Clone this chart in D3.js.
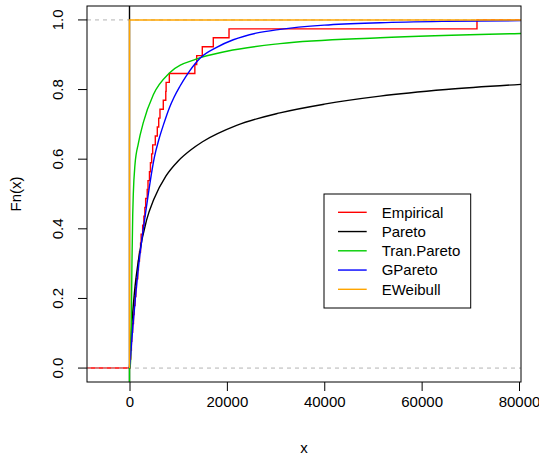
<!DOCTYPE html>
<html>
<head>
<meta charset="utf-8">
<script src="https://cdn.jsdelivr.net/npm/d3@7"></script>
<style>
  html, body { margin: 0; padding: 0; background: #fff; }
  svg text { font-family: "Liberation Sans", Arial, Helvetica, sans-serif; }
</style>
</head>
<body>
<svg id="chart" width="539" height="460"></svg>
<script>
'use strict';

// sorted claim sizes behind the empirical cdf (39 obs.)
var empiricalX = [
  120, 260, 390, 470, 640, 820, 950, 1130, 1300, 1420,
  1690, 1830, 2050, 2270, 2390, 2700, 2950, 3150, 3320, 3640,
  3800, 4100, 4300, 4550, 4760, 5300, 5710, 6000, 6260, 6940,
  7450, 7520, 8180, 13420, 13800, 14950, 17210, 20440, 71370
];

// fitted cdfs as [x, F(x)]
var paretoPts = [
  [0, 0], [200, 0.06], [500, 0.13], [1000, 0.215], [2000, 0.325],
  [3500, 0.425], [5000, 0.485], [7500, 0.552], [10000, 0.595],
  [12630, 0.627], [15000, 0.65], [22000, 0.697], [30900, 0.733],
  [40000, 0.758], [51450, 0.781], [65000, 0.80], [80410, 0.815]
];
var tranParetoPts = [
  [0, 0], [120, 0.004], [250, 0.03], [380, 0.14], [500, 0.30],
  [660, 0.44], [780, 0.50], [1130, 0.585], [1810, 0.645], [2830, 0.705],
  [4890, 0.785], [8320, 0.849], [13800, 0.888], [20000, 0.91],
  [30900, 0.932], [51450, 0.949], [80410, 0.961]
];
var gParetoPts = [
  [0, 0], [300, 0.05], [700, 0.12], [1200, 0.20], [2000, 0.31],
  [2830, 0.40], [3500, 0.465], [4300, 0.54], [5100, 0.605], [6000, 0.655],
  [7000, 0.70], [8200, 0.748], [9150, 0.778], [10300, 0.808],
  [11600, 0.838], [14480, 0.89], [18000, 0.922], [21320, 0.943],
  [26000, 0.962], [30900, 0.973], [40000, 0.985], [51450, 0.992],
  [65000, 0.996], [80410, 0.998]
];
var eWeibullPts = [[0, 0], [0, 1], [80410, 1]];

var xTicks = [0, 20000, 40000, 60000, 80000];
var yTicks = [0, 0.2, 0.4, 0.6, 0.8, 1.0];
var yTickLabels = ['0.0', '0.2', '0.4', '0.6', '0.8', '1.0'];

var legendLabels = ['Empirical', 'Pareto', 'Tran.Pareto', 'GPareto', 'EWeibull'];

var colors = {
  empirical: '#ff0000',
  pareto: '#000000',
  tranPareto: '#00cd00',
  gPareto: '#0000ff',
  eWeibull: '#ffa500',
  refLine: '#b3b3b3'
};
var legendColors = [colors.empirical, colors.pareto, colors.tranPareto,
  colors.gPareto, colors.eWeibull];

var box = { left: 87, right: 521, top: 6, bottom: 382 };
var lineWidth = 1.4;

var svg = d3.select('#chart');

var x = d3.scaleLinear().domain([-8730, 80410]).range([box.left, box.right]);
var y = d3.scaleLinear().domain([-0.04, 1.04]).range([box.bottom, box.top]);

svg.append('defs').append('clipPath').attr('id', 'plotClip')
  .append('rect')
  .attr('x', box.left).attr('y', box.top)
  .attr('width', box.right - box.left)
  .attr('height', box.bottom - box.top);

var plot = svg.append('g').attr('clip-path', 'url(#plotClip)');

/**
 * Draws one polyline through [x, F] pairs.
 */
function drawLine(points, color, curve) {
  var line = d3.line()
    .x(function(d) { return x(d[0]); })
    .y(function(d) { return y(d[1]); })
    .curve(curve || d3.curveLinear);
  plot.append('path')
    .datum(points)
    .attr('d', line)
    .attr('fill', 'none')
    .attr('stroke', color)
    .attr('stroke-width', lineWidth);
}

// empirical cdf as a step function
var n = empiricalX.length;
var ecdfPts = [[x.domain()[0], 0]];
empiricalX.forEach(function(v, i) {
  ecdfPts.push([v, (i + 1) / n]);
});
ecdfPts.push([x.domain()[1], 1]);
drawLine(ecdfPts, colors.empirical, d3.curveStepAfter);

// reference lines at 0 and 1
[0, 1].forEach(function(h) {
  plot.append('line')
    .attr('x1', box.left).attr('x2', box.right)
    .attr('y1', y(h)).attr('y2', y(h))
    .attr('stroke', colors.refLine)
    .attr('stroke-dasharray', '4,4');
});

drawLine([[0, y.domain()[0]], [0, y.domain()[1]]], colors.pareto);
drawLine(paretoPts, colors.pareto, d3.curveMonotoneX);
drawLine([[0, y.domain()[0]], [0, 0]], colors.tranPareto);
drawLine(tranParetoPts, colors.tranPareto, d3.curveMonotoneX);
drawLine(gParetoPts, colors.gPareto, d3.curveMonotoneX);
drawLine(eWeibullPts, colors.eWeibull);

// box
svg.append('rect')
  .attr('x', box.left).attr('y', box.top)
  .attr('width', box.right - box.left)
  .attr('height', box.bottom - box.top)
  .attr('fill', 'none').attr('stroke', '#000');

// x axis
var xAxis = svg.append('g')
  .attr('transform', 'translate(0,' + box.bottom + ')')
  .call(d3.axisBottom(x).tickValues(xTicks).tickSize(9).tickPadding(5)
    .tickFormat(d3.format('d')));
xAxis.select('.domain').remove();
xAxis.selectAll('text').style('font-size', '15px').attr('fill', '#000');

// y axis, labels turned like R does
var yAxis = svg.append('g');
yTicks.forEach(function(t, i) {
  yAxis.append('line')
    .attr('x1', box.left - 9).attr('x2', box.left)
    .attr('y1', y(t)).attr('y2', y(t))
    .attr('stroke', '#000');
  yAxis.append('text')
    .attr('transform', 'translate(63,' + y(t) + ') rotate(-90)')
    .attr('text-anchor', 'middle')
    .style('font-size', '15px')
    .text(yTickLabels[i]);
});

// axis titles
svg.append('text')
  .attr('x', (box.left + box.right) / 2).attr('y', 453)
  .attr('text-anchor', 'middle')
  .style('font-size', '15px')
  .text('x');
svg.append('text')
  .attr('transform', 'translate(21,' + (box.top + box.bottom) / 2 + ') rotate(-90)')
  .attr('text-anchor', 'middle')
  .style('font-size', '15px')
  .text('Fn(x)');

// legend
var legend = svg.append('g');
legend.append('rect')
  .attr('x', 324).attr('y', 194)
  .attr('width', 146.7).attr('height', 114)
  .attr('fill', '#fff').attr('stroke', '#000');
legendLabels.forEach(function(label, i) {
  var ly = 212.3 + i * 19.25;
  legend.append('line')
    .attr('x1', 338).attr('x2', 366.7)
    .attr('y1', ly).attr('y2', ly)
    .attr('stroke', legendColors[i])
    .attr('stroke-width', lineWidth);
  legend.append('text')
    .attr('x', 381.7).attr('y', ly)
    .attr('dy', '0.36em')
    .style('font-size', '15px')
    .text(label);
});
</script>
</body>
</html>
